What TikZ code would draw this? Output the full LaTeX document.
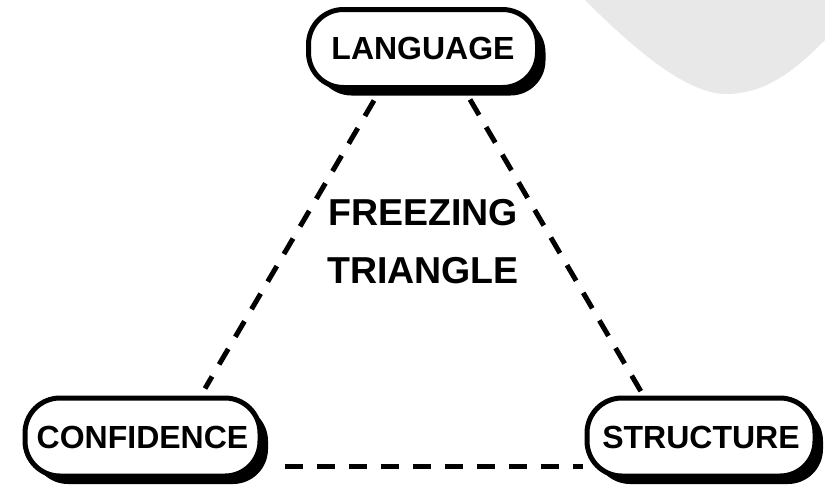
\documentclass[tikz,border=0pt]{standalone}
\usepackage{fontspec}
\setmainfont{Liberation Sans}
\usetikzlibrary{shadows,calc}
\definecolor{blobgray}{HTML}{E8E8E8}
\begin{document}
\begin{tikzpicture}[x=1pt,y=-1pt,
  pill/.style={draw=black, line width=5pt, fill=white, rounded corners=35pt,
    minimum height=78pt, inner sep=0pt,
    font=\fontsize{32}{36}\selectfont\bfseries,
    drop shadow={shadow xshift=8pt, shadow yshift=-8pt, fill=black, opacity=1}},
  dashline/.style={line width=5pt, dash pattern=on 18pt off 14pt},
  titletext/.style={font=\fontsize{37.5}{40}\selectfont\bfseries, inner sep=0pt, anchor=base}]
\useasboundingbox[fill=white] (0,0) rectangle (825,493);
\fill[blobgray] (585,0) .. controls (640,55) and (690,95) .. (728,94)
  .. controls (770,93) and (800,65) .. (825,40) -- (825,0) -- cycle;
\node[pill, minimum width=229pt] (lang) at (423,48.5) {LANGUAGE};
\node[pill, minimum width=235pt] (conf) at (142.5,437) {CONFIDENCE};
\node[pill, minimum width=228pt] (struct) at (701,437) {STRUCTURE};
\node[titletext] (freezing) at (423,225) {FREEZING};
\node[titletext] (triangle) at (423,283) {TRIANGLE};
\draw[dashline] ([shift={(-49,10.5)}]lang.south) -- ([shift={(62.5,-7)}]conf.north);
\draw[dashline] ([shift={(47,9.5)}]lang.south) -- ([shift={(-60,-4)}]struct.north);
\draw[dashline] ([shift={(22,29)}]conf.east) -- ([shift={(-2,29)}]struct.west);
\end{tikzpicture}
\end{document}
